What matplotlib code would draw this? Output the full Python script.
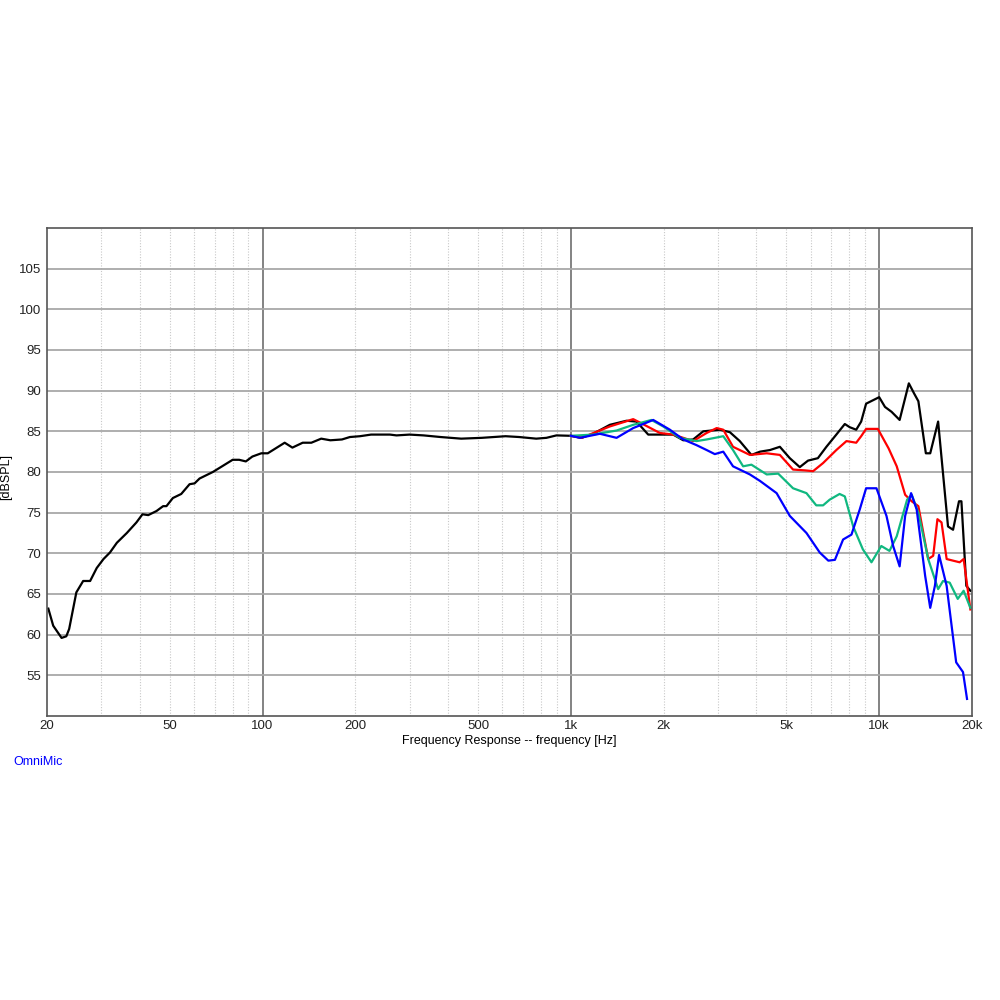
import numpy as np
import matplotlib
matplotlib.use("Agg")
import matplotlib.pyplot as plt
from matplotlib.ticker import FixedLocator, NullFormatter

plt.rcParams['font.family'] = ['Liberation Sans', 'DejaVu Sans']

# black curve (full range)
f_black = [20.2, 20.95, 22.3, 23.1, 23.6, 24.9, 26.2, 27.6, 29.0, 30.5, 32.0, 33.7, 36.3,
           39.0, 40.8, 42.6, 45.3, 47.6, 48.8, 51.2, 54.5, 58.0, 60.2, 62.5, 69.0, 72.5,
           80.0, 84.0, 88.3, 92.7, 99.1, 104, 118, 125, 135, 144, 155, 166, 181, 192, 207,
           225, 259, 272, 300, 333, 378, 441, 514, 614, 680, 772, 833, 898, 1000,
           1083, 1181, 1338, 1515, 1633, 1782, 1943, 2148, 2315, 2493, 2688, 3043, 3278,
           3531, 3851, 4107, 4424, 4763, 5130, 5527, 5878, 6327, 6743, 7261, 7736, 8032,
           8424, 8741, 9070, 10000, 10443, 10969, 11650, 12480, 12960, 13400, 14170,
           14640, 15530, 16720, 17360, 18150, 18480, 19170, 19760]
db_black = [63.2, 61.1, 59.6, 59.8, 60.7, 65.2, 66.6, 66.6, 68.2, 69.3, 70.1, 71.3, 72.5,
            73.8, 74.8, 74.7, 75.2, 75.8, 75.8, 76.8, 77.3, 78.5, 78.6, 79.2, 80.0, 80.5,
            81.5, 81.5, 81.3, 81.9, 82.3, 82.3, 83.6, 83.0, 83.6, 83.6, 84.1, 83.9, 84.0,
            84.3, 84.4, 84.6, 84.6, 84.5, 84.6, 84.5, 84.3, 84.1, 84.2, 84.4, 84.3, 84.1,
            84.2, 84.5, 84.45,
            84.2, 84.7, 85.8, 86.3, 86.2, 84.6, 84.6, 84.6, 83.9, 84.0, 85.0, 85.2, 84.9,
            83.8, 82.1, 82.5, 82.7, 83.1, 81.7, 80.6, 81.4, 81.7, 83.1, 84.6, 85.9, 85.5,
            85.2, 86.2, 88.4, 89.2, 88.0, 87.4, 86.4, 90.9, 89.7, 88.7, 82.3,
            82.3, 86.2, 73.3, 72.9, 76.4, 76.4, 66.0, 65.4]

f_red = [1000, 1083, 1338, 1593, 1691, 1943, 2148, 2493, 2757, 2971, 3121, 3357, 3807,
         4317, 4763, 5256, 5742, 6104, 6577, 7261, 7832, 8424, 8741, 9070, 9900, 10730,
         11400, 12140, 12750, 13400, 14420, 14970, 15450, 15930, 16550, 17360, 18240,
         18790, 19760]
db_red = [84.45, 84.2, 85.6, 86.5, 86.0, 84.8, 84.6, 83.8, 84.8, 85.4, 85.2, 83.1, 82.1,
          82.3, 82.1, 80.3, 80.2, 80.1, 81.1, 82.7, 83.8, 83.6, 84.4, 85.3, 85.3, 82.9,
          80.7, 77.2, 76.4, 75.8, 69.3, 69.7, 74.2, 73.8, 69.3, 69.1, 68.9,
          69.3, 63.1]

f_green = [1000, 1181, 1407, 1593, 1825, 1993, 2254, 2557, 2757, 3121, 3357, 3620, 3851,
           4317, 4704, 5256, 5810, 6250, 6577, 6910, 7440, 7736, 8236, 8850, 9440, 10160,
           10800, 11400, 12320, 12750, 13400, 14420, 15530, 16110, 16930, 17980, 18790,
           19760]
db_green = [84.45, 84.6, 85.1, 85.8, 86.4, 85.6, 84.2, 83.8, 84.0, 84.4, 82.7, 80.7, 80.9,
            79.7, 79.8, 78.0, 77.4, 75.9, 75.9, 76.6, 77.3, 77.0, 73.3, 70.5, 68.9, 70.9,
            70.3, 72.1, 76.6, 77.2, 75.0, 69.3, 65.6, 66.6, 66.4, 64.4, 65.4,
            63.3]

f_blue = [1000, 1070, 1242, 1407, 1593, 1850, 2095, 2315, 2557, 2757, 2930, 3121, 3357,
          3807, 4107, 4649, 5130, 5810, 6415, 6840, 7185, 7638, 8130, 8650, 9070, 9800,
          10560, 11100, 11650, 12140, 12690, 13230, 14100, 14640, 15160, 15640, 16550,
          17770, 18700, 19270]
db_blue = [84.45, 84.2, 84.7, 84.2, 85.4, 86.4, 85.2, 84.0, 83.3, 82.7, 82.2, 82.5, 80.7,
           79.7, 78.9, 77.4, 74.6, 72.5, 70.1, 69.1, 69.2, 71.7, 72.3, 75.4, 78.0, 78.0,
           74.6, 70.9, 68.4, 74.6, 77.4, 75.4, 67.2, 63.3, 66.0, 69.8, 66.0,
           56.6, 55.4, 52.1]

xticks = [20, 50, 100, 200, 500, 1000, 2000, 5000, 10000, 20000]
xlabels = ['20', '50', '100', '200', '500', '1k', '2k', '5k', '10k', '20k']
yticks = [55, 60, 65, 70, 75, 80, 85, 90, 95, 100, 105]

fig = plt.figure(figsize=(10, 10), dpi=100)
ax = fig.add_axes([0.047, 0.284, 0.925, 0.488])

ax.set_xscale('log')
ax.set_xlim(20, 20000)
ax.set_ylim(50, 110)

# grid
minor = [m * d for d in (10, 100, 1000, 10000) for m in range(2, 10)]
minor = [v for v in minor if 20 < v < 20000]
for v in minor:
    ax.axvline(v, color='#c8c8c8', lw=0.8, ls=(0, (1, 1.5)), zorder=0)
for v in (100, 1000, 10000):
    ax.axvline(v, color='#6e6e6e', lw=1.2, zorder=0)
for v in yticks:
    ax.axhline(v, color='#a8a8a8', lw=1.3, zorder=0)

ax.plot(f_black, db_black, color='black', lw=1.6)
ax.plot(f_red, db_red, color='#ff0000', lw=1.6)
ax.plot(f_green, db_green, color='#10b880', lw=1.6)
ax.plot(f_blue, db_blue, color='#0000ff', lw=1.6)

ax.xaxis.set_major_locator(FixedLocator(xticks))
ax.set_xticklabels(xlabels)
ax.xaxis.set_minor_formatter(NullFormatter())
ax.xaxis.set_minor_locator(FixedLocator([]))
ax.set_yticks(yticks)
ax.tick_params(axis='both', length=0, labelsize=9.5, colors='#222222')
ax.tick_params(axis='y', pad=4)
ax.tick_params(axis='x', pad=3)

for s in ax.spines.values():
    s.set_color('#555555')
    s.set_linewidth(1.2)

ax.set_ylabel('[dBSPL]', fontsize=9)
ax.yaxis.set_label_coords(-0.038, 0.49)
ax.set_xlabel('Frequency Response -- frequency [Hz]', fontsize=9, labelpad=2)
fig.text(0.013, 0.238, 'OmniMic', color='#0000ff', fontsize=9, va='center')

fig.savefig('out.png', dpi=100)
